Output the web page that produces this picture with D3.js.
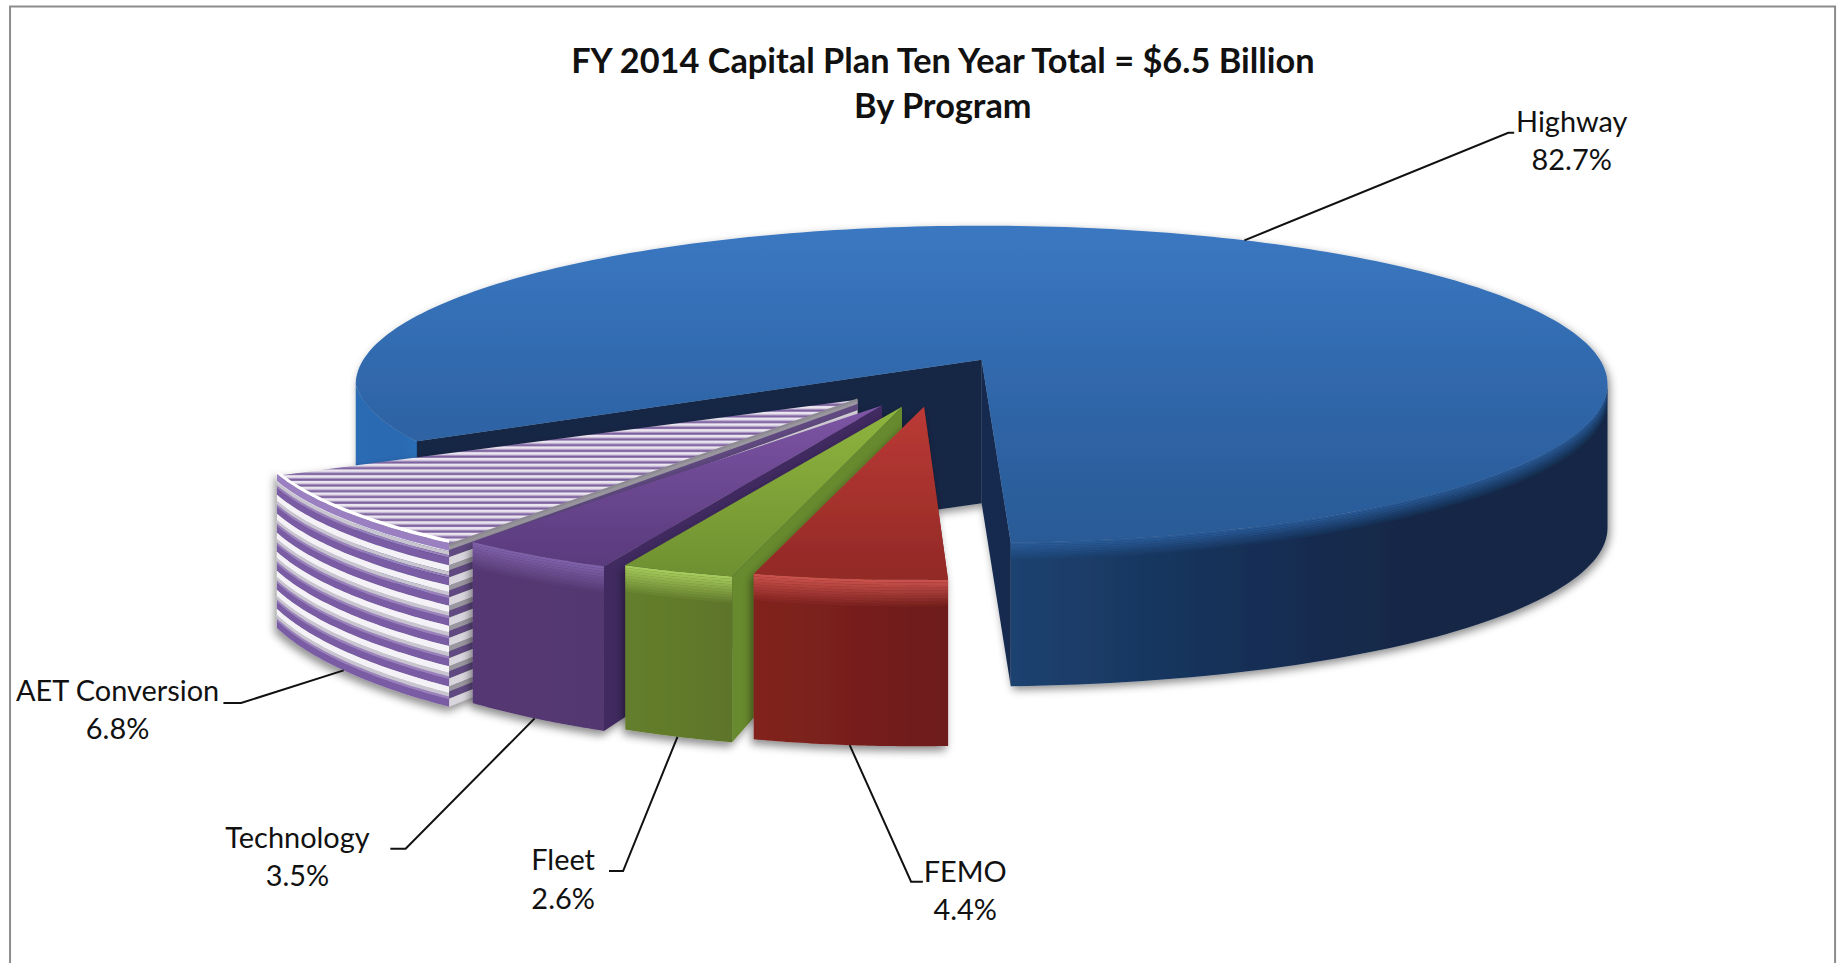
<!DOCTYPE html>
<html><head><meta charset="utf-8">
<script src="https://cdn.jsdelivr.net/npm/d3@7/dist/d3.min.js"></script>
<style>html,body{margin:0;padding:0;background:#fff;overflow:hidden}svg{display:block}text{font-family:Lato,"Open Sans",sans-serif;fill:#111}</style>
</head><body><div id="c"></div>
<script>
// ---- data ----
const categories = ["Highway","FEMO","Fleet","Technology","AET Conversion"];
const shares = [82.7,4.4,2.6,3.5,6.8];
const titleLines = ["FY 2014 Capital Plan Ten Year Total = $6.5 Billion","By Program"];

// ---- layout (separate from the data) ----
const W=1567.7,H=819.2;
const persp=.155,A=526,B=131.7,cx=835,cy=306;
const firstAngle=-120*Math.PI/180;
const explodeU=[0,-.089,-.123,-.154,-.193];
const explodeV=[0,.29,.29,.283,.248];
const radius=[1,.875,.885,.895,.93];
const fan=[1,1.08,1.07,1.12,1.14];
const spin=[0,0,.4,1.0,1.2];
const labelX=[1337,821,479,253,100];
const labelY=[112,750,740,721,596];
const elbowX=[1283,775,530,345,205];
const elbowY=[113,750,741,722,598];
const endX=[1288,785,518,332,190];
const palette={
  fleet:{top:["#8fb53e","#6f9031"],side:"#688a2e",wall:["#647f2d","#5d752a"],bevel:"#a9cd5e"},
  femo:{top:["#bb3a35","#922926"],side:"#7a1f1d",wall:["#82221f","#6d1c1a"],bevel:"#cc544e"},
  tech:{top:["#7d55a5","#593a7c"],side:"#402c60",wall:["#553973","#523770"],bevel:"#8063ab"}
};

const svg=d3.select("#c").append("svg").attr("width",1843).attr("height",963).attr("viewBox",`0 0 ${W} ${H}`);
const defs=svg.append("defs");
svg.append("rect").attr("width",W).attr("height",H).attr("fill","#fff");
svg.append("path").attr("d",`M8.5 ${H} V5.5 H1561 V${H}`).attr("fill","none").attr("stroke","#8c8c8c").attr("stroke-width",1.7);

function grad(id,x1,x2,y2,stops){
  const g=defs.append("linearGradient").attr("id",id).attr("x1",x1).attr("y1",0).attr("x2",x2).attr("y2",y2);
  stops.forEach(s=>g.append("stop").attr("offset",s[0]).attr("stop-color",s[1]));
  return `url(#${id})`;
}
function shadow(id,dx,dy,sd,op){
  const f=defs.append("filter").attr("id",id).attr("x","-15%").attr("y","-15%").attr("width","130%").attr("height","130%");
  f.append("feDropShadow").attr("dx",dx).attr("dy",dy).attr("stdDeviation",sd).attr("flood-color","#000").attr("flood-opacity",op);
  return `url(#${id})`;
}
const line=d3.line();
const deg=Math.PI/180;
const proj=(u,v)=>{const w=1-persp*v;return {x:cx+A*u/w,y:cy+B*v/w,d:1/w,v};};
const polar=(t,r,i)=>proj(explodeU[i]+r*Math.sin(t),explodeV[i]-r*Math.cos(t));
const arcPts=(t0,t1,r,i,n=60)=>d3.range(n+1).map(k=>polar(t0+(t1-t0)*k/n,typeof r==="function"?r(t0+(t1-t0)*k/n):r,i));
const xy=p=>[p.x,p.y];
// band of a wall between depth fractions f0 and f1
function band(pts,D,f0,f1){
  const a=pts.map(p=>[p.x,p.y+D*p.d*f0]);
  const b=pts.map(p=>[p.x,p.y+D*p.d*f1]).reverse();
  return line(a.concat(b))+"Z";
}
const arcs=d3.pie().sort(null).startAngle(firstAngle).endAngle(firstAngle+2*Math.PI)(shares);

// ---- Highway ----
(function(){
  const a=arcs[0],t0=a.startAngle,t1=a.endAngle,D=122;
  const g=svg.append("g").attr("filter",shadow("shH",2,3,3.5,.45));
  const flat=pts=>pts.map(p=>({x:p.x,y:p.y,d:1}));
  // the rim pulls in a little towards the lower-left cut
  const rimR=t=>t<-99*deg?1-.025*(-99*deg-t)/(21*deg):1;
  const apex=proj(0,0);
  const R=polar(t1,1,0),L=polar(t0,rimR(t0),0);
  const extreme=Math.acos(-persp);
  const rightPts=flat(arcPts(extreme,t1,1,0));
  const leftTop=arcPts(-extreme,-125*deg,rimR,0,24).map(xy);
  const leftBot=arcPts(-extreme,-125*deg,1,0,24).map(p=>[p.x,p.y+D]).reverse();
  g.append("path").attr("d",line(leftTop.concat(leftBot))+"Z").attr("fill",grad("hwL",0,1,0,[[0,"#2b6cb4"],[.5,"#2a6ab2"],[1,"#2f78c2"]]));
  g.append("path").attr("d",band(flat([apex,L]),D,0,1)).attr("fill","#132845");
  g.append("path").attr("d",band(flat([apex,R]),D,0,1)).attr("fill","#152c50");
  g.append("path").attr("d",band(rightPts,D,0,1)).attr("fill",grad("hwR",1,0,0,[[0,"#132846"],[.32,"#122746"],[.6,"#162f55"],[1,"#1c4270"]]));
  const top=grad("hwT",0,0,1,[[0,"#3b78c2"],[.55,"#2f66a9"],[1,"#2a5a96"]]);
  const face=[apex].concat(arcPts(t0,t1,rimR,0,240)).map(xy);
  d3.range(10).forEach(k=>{
    g.append("path").attr("d",band(rightPts,D,k*.012,(k+1)*.012)).attr("fill","#2b5d9b").attr("opacity",.95*(1-k/10));
  });
  g.append("path").attr("d",line(face)+"Z").attr("fill",top);
})();

// ---- Exploded slices ----
const aetPattern=defs.append("pattern").attr("id","aetTop").attr("patternUnits","userSpaceOnUse").attr("width",8).attr("height",4.9);
aetPattern.append("rect").attr("width",8).attr("height",4.9).attr("fill","#d6cbe0");
aetPattern.append("rect").attr("y",2.6).attr("width",8).attr("height",1.3).attr("fill","#f1edf4");
aetPattern.append("rect").attr("y",.4).attr("width",8).attr("height",1.9).attr("fill","#7b5f9e");

function slice(i,col){
  const a=arcs[i],r=radius[i],D=116;
  const m=(a.startAngle+a.endAngle)/2;
  const s=spin[i]*deg;
  const t0=m+s+(a.startAngle-m)*fan[i],t1=m+s+(a.endAngle-m)*fan[i];
  const g=svg.append("g").attr("filter",shadow("sh"+i,-2,4,3.5,.45));
  const ap=proj(explodeU[i],explodeV[i]);
  const outer=arcPts(t0,t1,r,i,40);
  const right=outer[0];
  if(col){
    g.append("path").attr("d",band([ap,right],D,0,1)).attr("fill",col.side);
    g.append("path").attr("d",band(outer,D,0,1)).attr("fill",grad("w"+i,1,0,0,[[0,col.wall[1]],[1,col.wall[0]]]));
    d3.range(10).forEach(k=>{
      g.append("path").attr("d",band(outer,D,k*.016,(k+1)*.016)).attr("fill",col.bevel).attr("opacity",.95*(1-k/10));
    });
    g.append("path").attr("d",line([ap].concat(outer).map(xy))+"Z").attr("fill",grad("t"+i,0,0,1,[[0,col.top[0]],[1,col.top[1]]]));
  } else {
    const periods=8;
    const stripes=[[0,.32,"#f4f2f6"],[.32,.5,"#c9c5d0"],[.5,.62,"#9a80bd"],[.62,1,"#7a5ca4"]];
    const sideStripes=[[0,.25,"#9a969f"],[.25,.6,"#5f4a80"],[.6,1,"#d8d5dc"]];
    g.append("path").attr("d",band([ap,right],D,0,1)).attr("fill","#8f8a96");
    d3.range(periods).forEach(k=>{
      sideStripes.forEach(s=>g.append("path").attr("d",band([ap,right],D,(k+s[0])/periods,(k+s[1])/periods)).attr("fill",s[2]));
    });
    d3.range(periods).forEach(k=>{
      stripes.forEach(s=>g.append("path").attr("d",band(outer,D,(k+s[0])/periods,(k+s[1])/periods)).attr("fill",s[2]));
    });
    g.append("path").attr("d",line([ap].concat(outer).map(xy))+"Z").attr("fill","url(#aetTop)");
    g.append("path").attr("d",band(outer,D,-.035,-.012)).attr("fill","#fff");
    g.append("path").attr("d",band(outer,D,-.012,.035)).attr("fill","#9a80c0");
    g.append("path").attr("d",line([ap,right].map(xy))).attr("stroke","#8d8a92").attr("stroke-width",2).attr("fill","none");
  }
}
slice(4,null);
slice(3,palette.tech);
slice(2,palette.fleet);
slice(1,palette.femo);

// ---- Leaders and labels ----
categories.forEach((c,i)=>{
  const a=arcs[i],m=(a.startAngle+a.endAngle)/2;
  const s=polar(m+spin[i]*deg,radius[i],i);
  const sy=i===0?s.y:s.y+116*s.d;
  svg.append("path").attr("d",line([[s.x,sy],[elbowX[i],elbowY[i]],[endX[i],elbowY[i]]]))
    .attr("fill","none").attr("stroke","#111").attr("stroke-width",1.7);
  const t=svg.append("text").attr("text-anchor","middle").attr("font-size",24.6);
  t.append("tspan").attr("x",labelX[i]).attr("y",labelY[i]).text(c);
  t.append("tspan").attr("x",labelX[i]).attr("y",labelY[i]+33).text(shares[i].toFixed(1)+"%");
});
titleLines.forEach((s,i)=>{
  svg.append("text").attr("x",802).attr("y",62+38*i).attr("text-anchor","middle")
    .attr("font-size",29.2).attr("font-weight",700).text(s);
});
</script></body></html>
